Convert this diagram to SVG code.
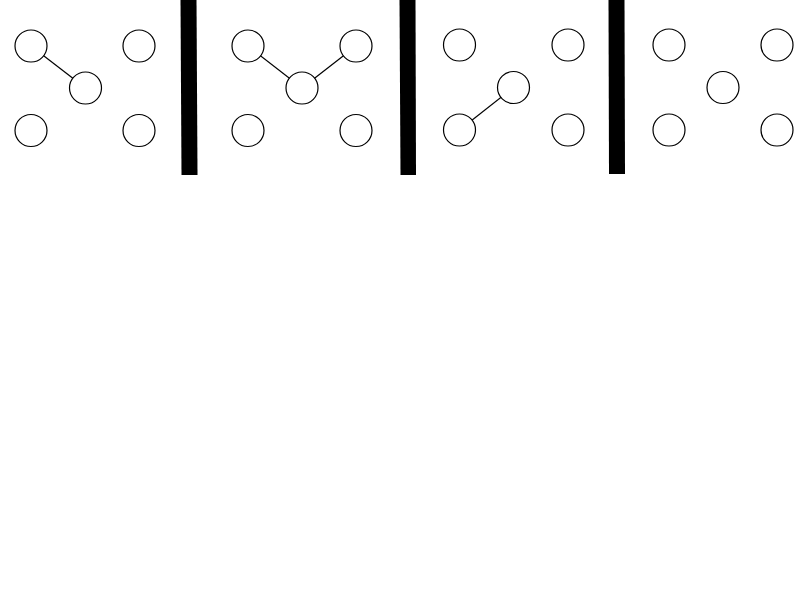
<svg xmlns="http://www.w3.org/2000/svg" width="800" height="600" viewBox="0 0 800 600">
<style>
.n{fill:#fff;stroke:#000;stroke-width:1.2}
.e{stroke:#000;stroke-width:1.2;fill:none}
.bar{fill:#000}
</style>
<rect width="800" height="600" fill="#fff"/>
<g id="bars">
<polygon class="bar" points="180.5,0 196.5,0 197.5,175 181.5,175"/>
<polygon class="bar" points="399.5,0 415.5,0 416,175 400.5,175"/>
<polygon class="bar" points="608.5,0 624.5,0 625,174 609,174"/>
</g>
<g id="connectors">
<line class="e" x1="31" y1="46" x2="85.5" y2="88"/>
<line class="e" x1="248" y1="46" x2="302" y2="88"/>
<line class="e" x1="356" y1="46" x2="302" y2="88"/>
<line class="e" x1="459.5" y1="130" x2="513.5" y2="87.5"/>
</g>
<g id="p1a"><circle class="n" cx="31" cy="46" r="16"/></g>
<g id="p1b"><circle class="n" cx="139" cy="46" r="16"/></g>
<g id="p1c"><circle class="n" cx="85.5" cy="88" r="16"/></g>
<g id="p1d"><circle class="n" cx="31" cy="130.5" r="16"/></g>
<g id="p1e"><circle class="n" cx="139" cy="130.5" r="16"/></g>
<g id="p2a"><circle class="n" cx="248" cy="46" r="16"/></g>
<g id="p2b"><circle class="n" cx="356" cy="46" r="16"/></g>
<g id="p2c"><circle class="n" cx="302" cy="88" r="16"/></g>
<g id="p2d"><circle class="n" cx="248" cy="130.5" r="16"/></g>
<g id="p2e"><circle class="n" cx="356" cy="130.5" r="16"/></g>
<g id="p3a"><circle class="n" cx="459.5" cy="45" r="16"/></g>
<g id="p3b"><circle class="n" cx="568" cy="45" r="16"/></g>
<g id="p3c"><circle class="n" cx="513.5" cy="87.5" r="16"/></g>
<g id="p3d"><circle class="n" cx="459.5" cy="130" r="16"/></g>
<g id="p3e"><circle class="n" cx="568" cy="130" r="16"/></g>
<g id="p4a"><circle class="n" cx="669" cy="45" r="16"/></g>
<g id="p4b"><circle class="n" cx="777" cy="45" r="16"/></g>
<g id="p4c"><circle class="n" cx="723" cy="87.5" r="16"/></g>
<g id="p4d"><circle class="n" cx="669" cy="130" r="16"/></g>
<g id="p4e"><circle class="n" cx="777" cy="130" r="16"/></g>
</svg>
